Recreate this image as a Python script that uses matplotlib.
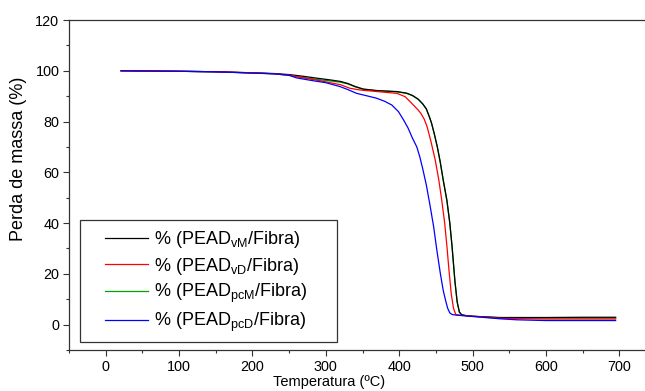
import matplotlib
matplotlib.use("Agg")
import matplotlib.pyplot as plt
from matplotlib.patches import Rectangle
from matplotlib.ticker import MultipleLocator

plt.rcParams["font.family"] = ["Liberation Sans", "DejaVu Sans"]
plt.rcParams["mathtext.default"] = "regular"

# temperatura (C) / perda de massa (%)
t_vM = [21, 60, 100, 150, 200, 230, 250, 270, 290, 306, 320, 330, 340, 351, 370, 397, 410,
        418, 426, 432, 437, 441, 444, 448, 452, 456, 460, 465, 469, 472, 476, 479, 482, 485,
        490, 500, 537, 600, 650, 695]
m_vM = [100, 99.9, 99.8, 99.6, 99.2, 98.9, 98.5, 97.8, 97.0, 96.4, 95.8, 95.0, 93.8, 92.8,
        92.2, 91.8, 91.2, 90.3, 88.8, 87.0, 85.0, 82.0, 79.5, 75.0, 70.0, 64.0, 57.0, 49.0,
        40.0, 31.0, 17.0, 9.0, 5.0, 3.9, 3.6, 3.3, 2.8, 2.8, 2.9, 2.9]

t_vD = [21, 60, 100, 150, 200, 230, 250, 270, 290, 306, 320, 333, 345, 351, 370, 397, 408,
        415, 421, 426, 430, 434, 438, 443, 449, 454, 458, 462, 465, 468, 471, 474, 477, 482,
        500, 537, 600, 650, 695]
m_vD = [100, 99.9, 99.8, 99.6, 99.2, 98.8, 98.3, 97.2, 96.2, 95.3, 94.5, 93.1, 92.5, 92.3,
        91.8, 91.1, 89.8, 87.8, 86.0, 84.5, 83.0, 81.0, 78.0, 72.5, 65.0, 57.0, 49.0, 40.0,
        31.0, 21.0, 12.0, 6.5, 4.0, 3.7, 3.3, 2.5, 2.2, 2.2, 2.2]

t_pcM = [21, 60, 100, 150, 200, 230, 250, 270, 290, 306, 320, 330, 340, 351, 370, 397, 410,
         418, 426, 432, 437, 441, 444, 448, 452, 456, 460, 465, 469, 472, 476, 479, 482, 485,
         490, 500, 537, 600, 650, 695]
m_pcM = [100, 99.9, 99.8, 99.6, 99.1, 98.8, 98.2, 97.3, 96.5, 96.0, 95.5, 94.8, 93.7, 92.7,
         92.1, 91.7, 91.1, 90.2, 88.7, 86.9, 84.9, 81.9, 79.4, 74.9, 69.9, 63.9, 56.9, 48.9,
         39.9, 30.9, 16.9, 8.9, 4.9, 3.9, 3.6, 3.3, 2.7, 2.6, 2.6, 2.6]

t_pcD = [21, 60, 100, 150, 200, 230, 250, 260, 280, 300, 319, 330, 342, 355, 369, 380, 390,
         399, 406, 412, 418, 424, 428, 432, 437, 442, 447, 451, 456, 460, 463, 466, 469, 472,
         476, 500, 537, 560, 600, 650, 695]
m_pcD = [100, 99.9, 99.8, 99.6, 99.1, 98.8, 98.2, 97.2, 96.2, 95.3, 93.8, 92.6, 91.1, 90.2,
         89.2, 88.0, 86.5, 83.9, 80.6, 77.5, 73.5, 70.0, 66.2, 61.5, 55.0, 47.0, 38.5, 30.0,
         20.3, 13.5, 9.8, 6.5, 4.6, 4.0, 3.8, 3.2, 2.3, 1.9, 1.6, 1.6, 1.6]

labels = ["% (PEAD$_{vM}$/Fibra)", "% (PEAD$_{vD}$/Fibra)",
          "% (PEAD$_{pcM}$/Fibra)", "% (PEAD$_{pcD}$/Fibra)"]

fig = plt.figure(figsize=(6.45, 3.91), dpi=100)
ax = fig.add_axes([69 / 645, 41 / 391, 587 / 645, 330 / 391])

lg, = ax.plot(t_pcM, m_pcM, color="#00a000", lw=0.9, zorder=2)
lk, = ax.plot(t_vM, m_vM, color="black", lw=0.9, zorder=3)
lr, = ax.plot(t_vD, m_vD, color="red", lw=0.9, zorder=3)
lb, = ax.plot(t_pcD, m_pcD, color="blue", lw=0.9, zorder=3)

ax.set_xlim(-50, 750)
ax.set_ylim(-10, 120)
ax.xaxis.set_major_locator(MultipleLocator(100))
ax.xaxis.set_minor_locator(MultipleLocator(50))
ax.yaxis.set_major_locator(MultipleLocator(20))
ax.yaxis.set_minor_locator(MultipleLocator(10))
ax.tick_params(which="both", direction="out", labelsize=10.4, colors="#333333",
               labelcolor="black", width=0.8)
ax.tick_params(which="major", length=4, pad=3)
ax.tick_params(which="minor", length=2.5)
for s in ax.spines.values():
    s.set_color("#333333")
    s.set_linewidth(0.9)

ax.set_xlabel("Temperatura (ºC)", fontsize=10.5, labelpad=0)
ax.xaxis.set_label_coords(0.443, -0.075)
ax.set_ylabel("Perda de massa (%)", fontsize=13, labelpad=6)
ax.yaxis.set_label_coords(-0.071, 0.58)

# legend box drawn by hand, it is wider than the entries
ax.add_patch(Rectangle((0.0187, 0.0242), 0.4378, 0.3697, transform=ax.transAxes,
                       facecolor="white", edgecolor="#333333", lw=0.9, zorder=4))
leg = ax.legend([lk, lr, lg, lb], labels, loc="upper left",
                bbox_to_anchor=(0.0613, 0.366), borderaxespad=0, fontsize=13,
                handlelength=2.4, handletextpad=0.3, labelspacing=0.3,
                frameon=False, borderpad=0)
leg.set_zorder(5)

fig.savefig("out.png", dpi=100)
